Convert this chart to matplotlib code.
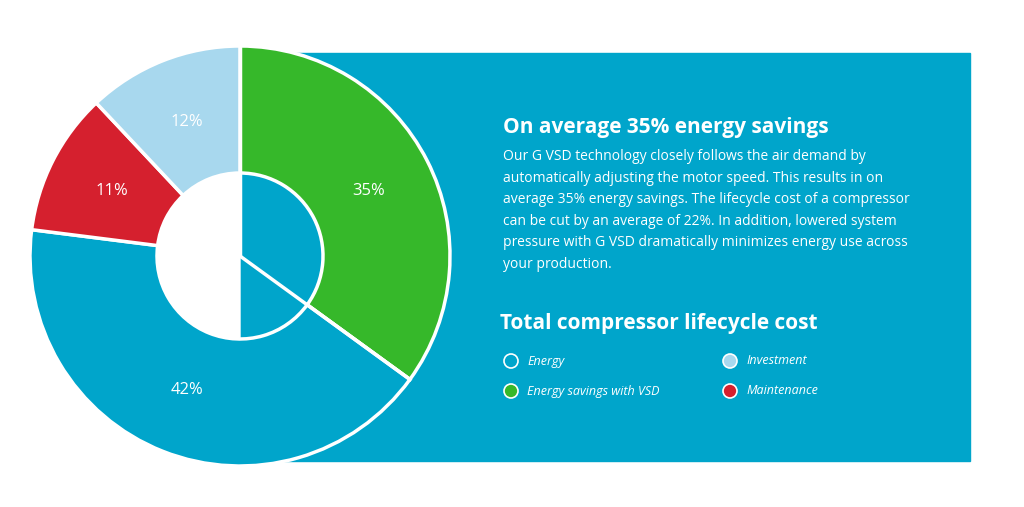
import matplotlib
matplotlib.use("Agg")
import matplotlib.pyplot as plt
from matplotlib.patches import Rectangle, Wedge, Circle
import numpy as np

categories = ["Energy savings with VSD", "Energy", "Maintenance", "Investment"]
values = [35, 42, 11, 12]
colors = ["#36b82a", "#00a5cb", "#d5202e", "#a8d8ee"]
bg = "#00a5cb"

title1 = "On average 35% energy savings"
para = ["Our G VSD technology closely follows the air demand by",
        "automatically adjusting the motor speed. This results in on",
        "average 35% energy savings. The lifecycle cost of a compressor",
        "can be cut by an average of 22%. In addition, lowered system",
        "pressure with G VSD dramatically minimizes energy use across",
        "your production."]
title2 = "Total compressor lifecycle cost"
legend_items = [("Energy", bg, "white"), ("Investment", "#a8d8ee", "white"),
                ("Energy savings with VSD", "#36b82a", "white"), ("Maintenance", "#d5202e", "white")]

W, H = 1024, 507
fig = plt.figure(figsize=(W/100, H/100), dpi=100)
ax = fig.add_axes([0, 0, 1, 1])
ax.set_xlim(0, W); ax.set_ylim(0, H); ax.axis("off")
fam = "Open Sans"

def Y(p): return H - p

ax.add_patch(Rectangle((240, Y(461)), 730, 408, color=bg, zorder=0))
cx, cy, R, r = 240, Y(256), 210, 83
wedges, _, autot = ax.pie(values, colors=colors, startangle=90, counterclock=False,
       center=(cx, cy), radius=R, autopct=lambda p: f"{p:.0f}%", pctdistance=0.685,
       wedgeprops=dict(width=R - r, edgecolor="white", linewidth=2.5),
       textprops=dict(color="white", fontsize=12, family=fam), frame=True)
ax.set_xlim(0, W); ax.set_ylim(0, H); ax.set_aspect("auto"); ax.axis("off")
for w in wedges: w.set_zorder(2)
for t in autot: t.set_zorder(3)
ax.add_patch(Wedge((cx, cy), r - 1, 90, 270, color="white", zorder=2))
a2 = np.deg2rad(90 - values[0] * 3.6)
ax.plot([cx, cx], [cy, cy + R], color="white", lw=2.5, zorder=2.5)
ax.plot([cx, cx + R*np.cos(a2)], [cy, cy + R*np.sin(a2)], color="white", lw=2.5, zorder=2.5)

ax.text(503, Y(127), title1, color="white", fontsize=15, fontweight="bold", family=fam, va="center")
for i, line in enumerate(para):
    ax.text(503, Y(157 + i*21.4), line, color="white", fontsize=10, family=fam, va="center")
ax.text(500, Y(324), title2, color="white", fontsize=15, fontweight="bold", family=fam, va="center")
pos = [(511, 361), (730, 361), (511, 391), (730, 391)]
for (lab, fc, ec), (x, y) in zip(legend_items, pos):
    ax.add_patch(Circle((x, Y(y)), 7, facecolor=fc, edgecolor=ec, lw=1.2, zorder=3))
    ax.text(x + 16, Y(y), lab, color="white", fontsize=9, style="italic", family=fam, va="center")

fig.savefig("out.png", dpi=100, facecolor="white")
